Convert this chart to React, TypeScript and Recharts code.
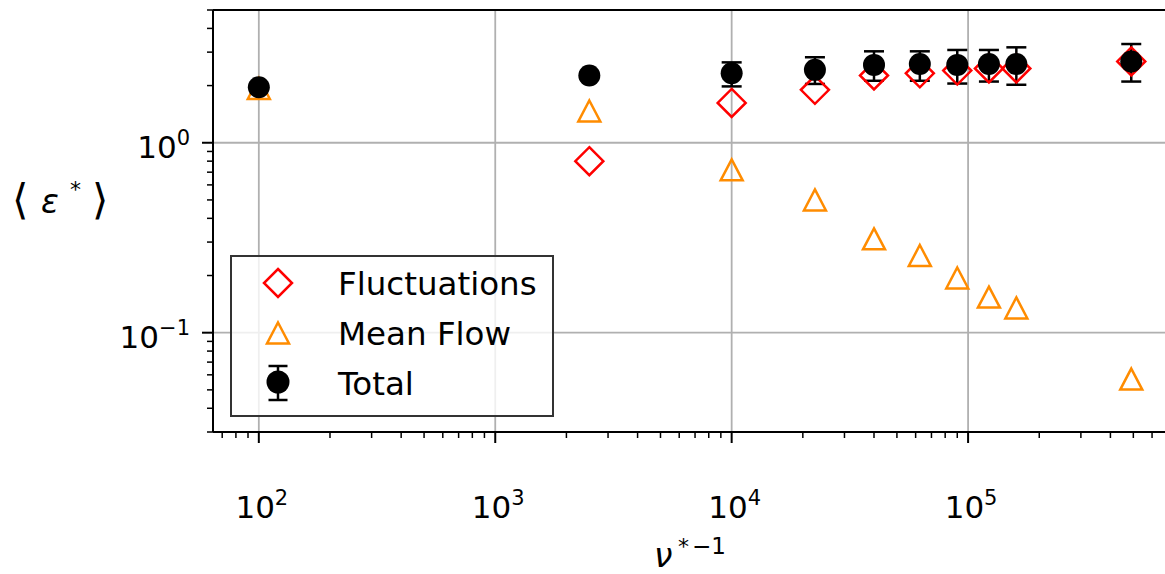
import React from 'react';
import { ScatterChart, Scatter, XAxis, YAxis, ErrorBar, ReferenceLine } from 'recharts';

// inverse collisionality nu*^-1 for each run
const nuInv = [100, 2500, 10000, 22500, 40000, 62500, 90000, 122500, 160000, 490000];
const fluctuations = [null, 0.8, 1.62, 1.9, 2.26, 2.32, 2.4, 2.46, 2.46, 2.68];
const meanFlow = [1.93, 1.47, 0.72, 0.5, 0.312, 0.255, 0.194, 0.154, 0.135, 0.057];
const total = [1.96, 2.26, 2.32, 2.42, 2.57, 2.6, 2.57, 2.6, 2.6, 2.68];
const totalErrLow = [0, 0, 0.34, 0.38, 0.45, 0.48, 0.52, 0.5, 0.58, 0.58];
const totalErrHigh = [0, 0, 0.33, 0.4, 0.46, 0.43, 0.51, 0.48, 0.58, 0.63];

const xDomain = [64, 765000];
const yDomain = [0.03, 5];
const xMajor = [100, 1000, 10000, 100000];
const xMajorLabels = ['2', '3', '4', '5'];
const xMinor = [
  70, 80, 90,
  200, 300, 400, 500, 600, 700, 800, 900,
  2000, 3000, 4000, 5000, 6000, 7000, 8000, 9000,
  20000, 30000, 40000, 50000, 60000, 70000, 80000, 90000,
  200000, 300000, 400000, 500000, 600000, 700000,
];
const yMajor = [0.1, 1];
const yMajorLabels = ['\u22121', '0'];
const yMinor = [0.03, 0.04, 0.05, 0.06, 0.07, 0.08, 0.09, 0.2, 0.3, 0.4, 0.5, 0.6, 0.7, 0.8, 0.9, 2, 3, 4, 5];

const FONT = '"DejaVu Sans", sans-serif';
const RED = '#ff0000';
const ORANGE = '#ff8c00';
const GRID = '#b0b0b0';

const fluctData = nuInv.map((x, i) => ({ x, y: fluctuations[i] })).filter(d => d.y != null);
const meanData = nuInv.map((x, i) => ({ x, y: meanFlow[i] }));
const totalData = nuInv.map((x, i) => ({ x, y: total[i], err: [totalErrLow[i], totalErrHigh[i]] }));

const Diamond = ({ cx, cy }: any) => (
  <path d={`M${cx},${cy - 14}L${cx + 14},${cy}L${cx},${cy + 14}L${cx - 14},${cy}Z`} fill="none" stroke={RED} strokeWidth={2.5} />
);
const Triangle = ({ cx, cy }: any) => (
  <path d={`M${cx},${cy - 10.5}L${cx + 11},${cy + 10.5}L${cx - 11},${cy + 10.5}Z`} fill="none" stroke={ORANGE} strokeWidth={2.5} />
);
const Dot = ({ cx, cy }: any) => <circle cx={cx} cy={cy} r={11} fill="#000" />;

const XTick = ({ x, y, payload }: any) => {
  const idx = xMajor.indexOf(payload.value);
  const major = idx >= 0;
  return (
    <g>
      <line x1={x} x2={x} y1={y} y2={y + (major ? 11 : 6)} stroke="#000" strokeWidth={major ? 2 : 1.5} />
      {major && (
        <text x={x + 3} y={y + 86} textAnchor="middle" fontFamily={FONT} fontSize={31} fill="#000">
          10<tspan dy={-13} fontSize={21}>{xMajorLabels[idx]}</tspan>
        </text>
      )}
    </g>
  );
};

const YTick = ({ x, y, payload }: any) => {
  const idx = yMajor.indexOf(payload.value);
  const major = idx >= 0;
  return (
    <g>
      <line x1={x - (major ? 11 : 6)} x2={x} y1={y} y2={y} stroke="#000" strokeWidth={major ? 2 : 1.5} />
      {major && (
        <text x={x - 23} y={y + 15} textAnchor="end" fontFamily={FONT} fontSize={31} fill="#000">
          10<tspan dy={-13} fontSize={21}>{yMajorLabels[idx]}</tspan>
        </text>
      )}
    </g>
  );
};

function Overlay() {
  return (
    <svg width={1165} height={574} style={{ position: 'absolute', left: 0, top: 0, pointerEvents: 'none' }}>
      <g fontFamily={FONT} fill="#000">
        {/* y label */}
        <text y={213} fontSize={31}>
          <tspan x={12} fontSize={42} dy={1}>{'\u27E8'}</tspan>
          <tspan x={41} dy={-1} fontStyle="italic" fontSize={33}>ε</tspan>
          <tspan x={70} dy={-16} fontSize={22}>*</tspan>
          <tspan x={92} dy={17} fontSize={42}>{'\u27E9'}</tspan>
        </text>
        {/* x label */}
        <text y={567} fontSize={33}>
          <tspan x={654} fontStyle="italic">ν</tspan>
          <tspan x={678} dy={-13} fontSize={22}>*</tspan>
          <tspan x={692} fontSize={23}>{'\u22121'}</tspan>
        </text>
      </g>
      {/* legend */}
      <rect x={231} y={256} width={322} height={160} fill="#fff" fillOpacity={0.8} stroke="#333" strokeWidth={2} />
      <Diamond cx={278} cy={283} />
      <Triangle cx={278} cy={333} />
      <line x1={278} x2={278} y1={366} y2={400} stroke="#000" strokeWidth={2.5} />
      <line x1={268.5} x2={287.5} y1={366} y2={366} stroke="#000" strokeWidth={2.5} />
      <line x1={268.5} x2={287.5} y1={400} y2={400} stroke="#000" strokeWidth={2.5} />
      <circle cx={278} cy={382} r={11.5} fill="#000" />
      <g fontFamily={FONT} fontSize={32.5} fill="#000">
        <text x={338} y={295}>Fluctuations</text>
        <text x={338} y={345}>Mean Flow</text>
        <text x={338} y={395}>Total</text>
      </g>
    </svg>
  );
}

export default function App() {
  return (
    <div style={{ position: 'absolute', left: 0, top: 0, width: 1165, height: 574, overflow: 'hidden', background: '#fff' }}>
      <ScatterChart width={1200} height={574} margin={{ top: 10, right: 23, bottom: 0, left: 0 }}>
        <XAxis
          dataKey="x" type="number" scale="log" domain={xDomain} allowDataOverflow
          ticks={[...xMajor, ...xMinor]} interval={0} tickSize={0} tickMargin={0} height={142}
          axisLine={{ stroke: '#000', strokeWidth: 2 }} tickLine={false} tick={(p: any) => <XTick {...p} />}
        />
        <YAxis
          dataKey="y" type="number" scale="log" domain={yDomain} allowDataOverflow
          ticks={[...yMajor, ...yMinor]} interval={0} tickSize={0} tickMargin={0} width={213}
          axisLine={{ stroke: '#000', strokeWidth: 2 }} tickLine={false} tick={(p: any) => <YTick {...p} />}
        />
        {xMajor.map(v => <ReferenceLine key={'gx' + v} x={v} stroke={GRID} strokeWidth={1.8} />)}
        {yMajor.map(v => <ReferenceLine key={'gy' + v} y={v} stroke={GRID} strokeWidth={1.8} />)}
        <ReferenceLine y={5} stroke="#000" strokeWidth={2} />
        <Scatter data={fluctData} shape={Diamond} isAnimationActive={false} />
        <Scatter data={meanData} shape={Triangle} isAnimationActive={false} />
        <Scatter data={totalData} shape={Dot} isAnimationActive={false}>
          <ErrorBar dataKey="err" direction="y" width={10} strokeWidth={2.5} stroke="#000" />
        </Scatter>
      </ScatterChart>
      <Overlay />
    </div>
  );
}
